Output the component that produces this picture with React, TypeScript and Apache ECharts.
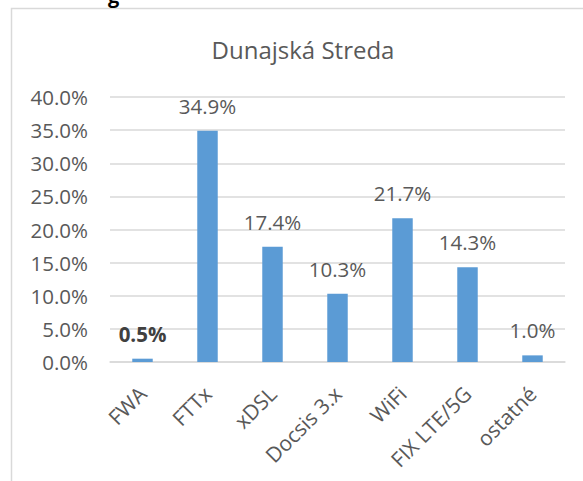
import React, { useEffect, useRef } from "react";
import * as echarts from "echarts";

const categories = ["FWA", "FTTx", "xDSL", "Docsis 3.x", "WiFi", "FIX LTE/5G", "ostatné"];
const values = [0.5, 34.9, 17.4, 10.3, 21.7, 14.3, 1.0];
const boldIndex = 0;
const title = "Dunajská Streda";

const FONT = "'Open Sans', sans-serif";

export default function App() {
  const ref = useRef<HTMLDivElement>(null);
  useEffect(() => {
    if (!ref.current) return;
    const chart = echarts.init(ref.current, null, { renderer: "svg" });
    chart.setOption({
      animation: false,
      backgroundColor: "#ffffff",
      title: {
        text: title,
        left: 298,
        top: 32,
        textAlign: "center",
        textStyle: { fontFamily: FONT, fontSize: 24, fontWeight: "normal", color: "#595959" },
      },
      graphic: [
        {
          type: "rect",
          shape: { x: 11.5, y: 8.5, width: 700, height: 600 },
          style: { fill: "none", stroke: "#d9d9d9", lineWidth: 1.5 },
          z: -1,
        },
        {
          type: "text",
          x: 108,
          y: 5,
          style: {
            text: "g",
            font: "bold 20px 'Open Sans', sans-serif",
            fill: "#000000",
            verticalAlign: "bottom",
          },
        },
      ],
      grid: { left: 110, right: 18, top: 97, bottom: 119 },
      xAxis: {
        type: "category",
        data: categories,
        axisLine: { lineStyle: { color: "#d9d9d9", width: 1.5 } },
        axisTick: { show: false },
        axisLabel: {
          rotate: 45,
          interval: 0,
          margin: 28,
          fontFamily: FONT,
          fontSize: 21,
          color: "#595959",
        },
      },
      yAxis: {
        type: "value",
        min: 0,
        max: 40,
        interval: 5,
        axisLine: { show: false },
        axisTick: { show: false },
        splitLine: { lineStyle: { color: "#d9d9d9", width: 1.5 } },
        axisLabel: {
          margin: 22,
          fontFamily: FONT,
          fontSize: 20.5,
          color: "#595959",
          formatter: (v: number) => v.toFixed(1) + "%",
        },
      },
      series: [
        {
          type: "bar",
          barWidth: "31.5%",
          itemStyle: { color: "#5b9bd5" },
          data: values.map((v, i) => ({
            value: v,
            label: i === boldIndex ? { fontWeight: "bold", color: "#404040" } : undefined,
          })),
          label: {
            show: true,
            position: "top",
            distance: 15,
            lineHeight: 20,
            fontFamily: FONT,
            fontSize: 20.5,
            color: "#595959",
            formatter: (p: any) => Number(p.value).toFixed(1) + "%",
          },
        },
      ],
    });
    return () => chart.dispose();
  }, []);
  return (
    <div
      ref={ref}
      style={{ position: "fixed", left: 0, top: 0, width: 583, height: 481 }}
    />
  );
}
